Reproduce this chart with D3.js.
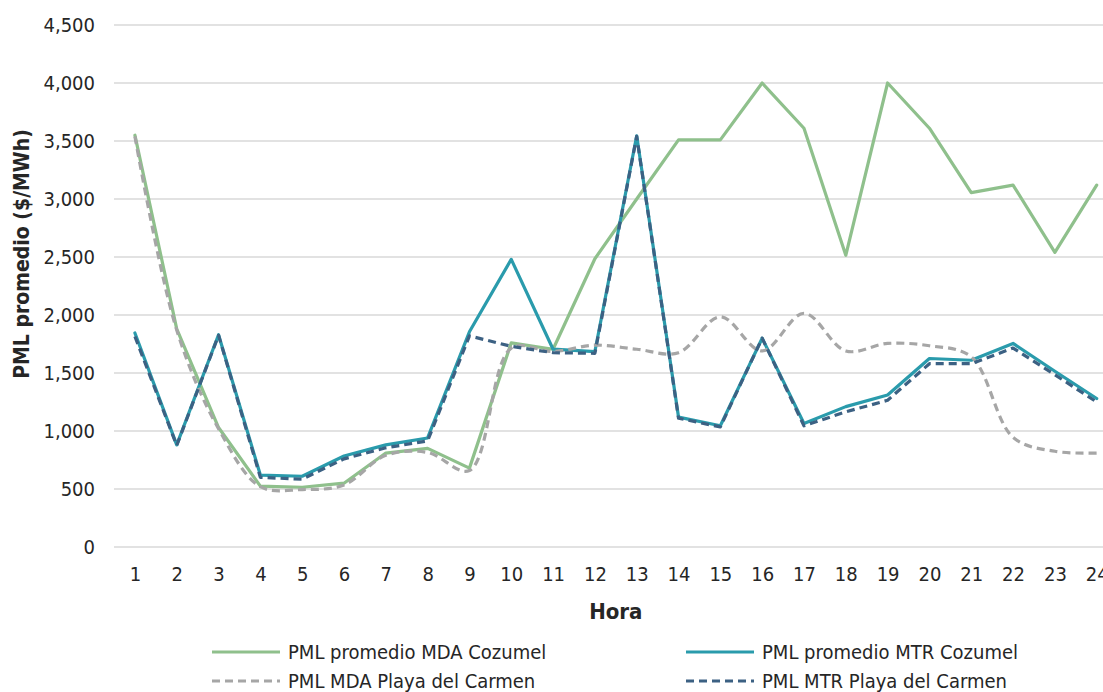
<!DOCTYPE html>
<html><head><meta charset="utf-8">
<script src="https://cdn.jsdelivr.net/npm/d3@7"></script>
<style>
html,body{margin:0;padding:0;background:#fff;overflow:hidden}
svg{display:block}
text{font-family:"Liberation Sans Narrow","Arial Narrow","DejaVu Sans Condensed",sans-serif;fill:#262626}
</style></head><body>
<svg id="c" width="1103" height="692"></svg>
<script>
const hours = d3.range(1, 25);
const yTicks = [0, 500, 1000, 1500, 2000, 2500, 3000, 3500, 4000, 4500];
const mdaCozumel = [3550, 1880, 1030, 525, 515, 550, 810, 850, 680, 1760, 1705, 2485, 3000, 3510, 3510, 4000, 3610, 2515, 4000, 3610, 3055, 3120, 2540, 3120];
const mtrCozumel = [1845, 880, 1830, 620, 610, 785, 880, 940, 1855, 2480, 1705, 1685, 3545, 1120, 1045, 1800, 1065, 1210, 1310, 1625, 1610, 1755, 1515, 1280];
const mdaPlaya = [3540, 1870, 1020, 520, 495, 535, 790, 815, 660, 1715, 1685, 1740, 1705, 1675, 1985, 1690, 2015, 1690, 1755, 1735, 1640, 945, 825, 810];
const mtrPlaya = [1815, 875, 1825, 600, 585, 760, 855, 915, 1820, 1730, 1675, 1670, 3540, 1110, 1035, 1800, 1045, 1165, 1265, 1580, 1580, 1715, 1485, 1250];
const seriesNames = ["PML promedio MDA Cozumel", "PML promedio MTR Cozumel", "PML MDA Playa del Carmen", "PML MTR Playa del Carmen"];

const series = [
  {name: seriesNames[0], values: mdaCozumel, color: "#8fc08c", dash: null, smooth: false},
  {name: seriesNames[1], values: mtrCozumel, color: "#2a9bac", dash: null, smooth: false},
  {name: seriesNames[2], values: mdaPlaya, color: "#a6a6a6", dash: "8,5", smooth: true},
  {name: seriesNames[3], values: mtrPlaya, color: "#3c6183", dash: "8,5", smooth: false}
];

const svg = d3.select("#c");
const pLeft = 114, pRight = 1117.6, pTop = 25, pBottom = 547;
const x = d3.scalePoint().domain(hours).range([pLeft, pRight]).padding(0.5);
const y = d3.scaleLinear().domain([0, 4500]).range([pBottom, pTop]);
const FONT = '"Liberation Sans Narrow","Arial Narrow","DejaVu Sans Condensed",sans-serif';

// gridlines
svg.append("g").selectAll("line").data(yTicks).join("line")
  .attr("x1", pLeft).attr("x2", 1103)
  .attr("y1", d => y(d)).attr("y2", d => y(d))
  .attr("stroke", "#d9d9d9").attr("stroke-width", 1.6);

// y axis labels
const yAxis = svg.append("g").attr("transform", `translate(${pLeft},0)`)
  .call(d3.axisLeft(y).tickValues(yTicks).tickSize(0).tickPadding(19).tickFormat(d3.format(",")));
yAxis.select(".domain").remove();
yAxis.selectAll("text").style("font-size", "20px").attr("fill", "#262626").style("font-family", FONT);

// x axis labels
const xAxis = svg.append("g").attr("transform", `translate(0,${pBottom})`)
  .call(d3.axisBottom(x).tickSize(0).tickPadding(20));
xAxis.select(".domain").remove();
xAxis.selectAll("text").style("font-size", "20px").attr("fill", "#262626").style("font-family", FONT);

// lines
series.forEach(s => {
  const line = d3.line().x((d, i) => x(hours[i])).y(d => y(d))
    .curve(s.smooth ? d3.curveCatmullRom.alpha(0.5) : d3.curveLinear);
  svg.append("path").datum(s.values)
    .attr("d", line).attr("fill", "none")
    .attr("stroke", s.color).attr("stroke-width", 3.2)
    .attr("stroke-dasharray", s.dash)
    .attr("stroke-linejoin", "round").attr("stroke-linecap", s.dash ? "butt" : "round");
});

// axis titles
svg.append("text").attr("x", (pLeft + pRight) / 2).attr("y", 619)
  .attr("text-anchor", "middle").style("font-size", "22px").style("font-weight", "bold")
  .text("Hora");
svg.append("text").attr("transform", `translate(29,${(pTop + pBottom) / 2 - 32}) rotate(-90)`)
  .attr("text-anchor", "middle").style("font-size", "21px").style("font-weight", "bold")
  .text("PML promedio ($/MWh)");

// legend
const legPos = [[212, 652], [686, 652], [212, 681], [686, 681]];
series.forEach((s, i) => {
  const [lx, ly] = legPos[i];
  svg.append("line").attr("x1", lx).attr("x2", lx + 68).attr("y1", ly).attr("y2", ly)
    .attr("stroke", s.color).attr("stroke-width", 3.2).attr("stroke-dasharray", s.dash);
  svg.append("text").attr("x", lx + 76).attr("y", ly).attr("dy", "0.35em")
    .style("font-size", "20px").text(s.name);
});
</script>
</body></html>
